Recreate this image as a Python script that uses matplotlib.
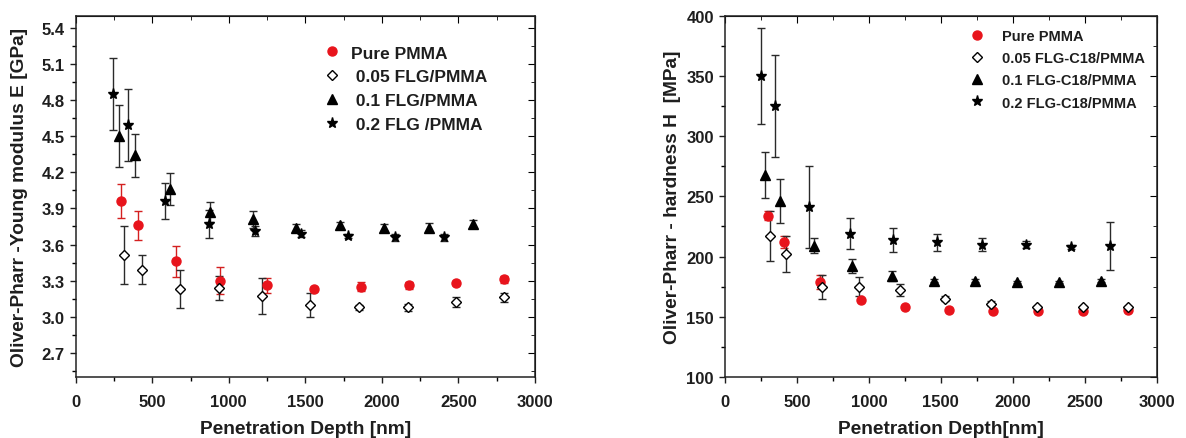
import matplotlib
matplotlib.use('Agg')
import matplotlib.pyplot as plt
import numpy as np
from matplotlib.ticker import MultipleLocator

plt.rcParams['font.family'] = ['Liberation Sans', 'DejaVu Sans']
plt.rcParams['font.weight'] = 'bold'

# Young modulus E [GPa] vs depth [nm]
e_pure_x = [296, 409, 657, 945, 1250, 1555, 1862, 2175, 2484, 2798]
e_pure_y = [3.96, 3.76, 3.46, 3.30, 3.26, 3.23, 3.25, 3.26, 3.28, 3.31]
e_pure_err = [0.14, 0.12, 0.13, 0.11, 0.06, 0.02, 0.04, 0.03, 0.02, 0.03]

e_005_x = [318, 431, 681, 938, 1219, 1531, 1853, 2173, 2486, 2800]
e_005_y = [3.51, 3.39, 3.23, 3.24, 3.17, 3.10, 3.08, 3.08, 3.12, 3.16]
e_005_err = [0.24, 0.12, 0.16, 0.10, 0.15, 0.10, 0.02, 0.03, 0.04, 0.04]

e_01_x = [281, 390, 616, 880, 1156, 1441, 1727, 2014, 2306, 2597]
e_01_y = [4.50, 4.34, 4.06, 3.87, 3.81, 3.74, 3.76, 3.74, 3.74, 3.77]
e_01_err = [0.26, 0.18, 0.13, 0.08, 0.07, 0.03, 0.03, 0.03, 0.04, 0.03]

e_02_x = [244, 344, 586, 871, 1169, 1469, 1777, 2088, 2404]
e_02_y = [4.85, 4.59, 3.96, 3.77, 3.71, 3.69, 3.67, 3.66, 3.66]
e_02_err = [0.30, 0.30, 0.15, 0.12, 0.04, 0.03, 0.02, 0.03, 0.03]

# Hardness H [MPa] vs depth [nm]
h_pure_x = [299, 412, 660, 947, 1251, 1554, 1860, 2175, 2486, 2798]
h_pure_y = [234, 212, 179, 164, 158, 156, 155, 155, 155, 156]
h_pure_err = [4, 5, 6, 1, 1, 1, 1, 1, 1, 1]

h_005_x = [313, 426, 674, 931, 1216, 1529, 1849, 2170, 2488, 2801]
h_005_y = [217, 202, 175, 175, 172, 165, 161, 158, 158, 158]
h_005_err = [21, 15, 10, 8, 5, 2, 2, 1, 1, 1]

h_01_x = [280, 385, 616, 885, 1163, 1450, 1737, 2029, 2319, 2613]
h_01_y = [268, 246, 209, 192, 184, 180, 180, 179, 179, 180]
h_01_err = [19, 18, 6, 6, 4, 1, 1, 1, 1, 1]

h_02_x = [248, 347, 586, 871, 1170, 1476, 1784, 2094, 2404, 2675]
h_02_y = [350, 325, 241, 219, 214, 212, 210, 210, 208, 209]
h_02_err = [40, 42, 34, 13, 10, 7, 5, 3, 2, 20]

TXT = '#1e1e1e'


def serie(ax, x, y, err, marker, color, face, size, label):
    ecol = '#d42020' if color == 'red' else '#2a2a2a'
    ax.errorbar(x, y, yerr=err, fmt='none', ecolor=ecol, elinewidth=1.0,
                capsize=3, capthick=1.0, zorder=2)
    ax.plot(x, y, ls='none', marker=marker, ms=size, mfc=face,
            mec='#e8141c' if color == 'red' else 'black', mew=1.0,
            label=label, zorder=3)


def preparar(ax, ylim, ymajor, yminor, ylabel, xlabel, ypad):
    ax.set_xlim(0, 3000)
    ax.set_ylim(*ylim)
    ax.xaxis.set_major_locator(MultipleLocator(500))
    ax.xaxis.set_minor_locator(MultipleLocator(250))
    ax.yaxis.set_major_locator(ymajor)
    ax.yaxis.set_minor_locator(yminor)
    ax.tick_params(which='major', direction='out', length=4.5, width=1, labelsize=12,
                   colors=TXT)
    ax.tick_params(axis='x', which='major', pad=7.5)
    ax.tick_params(which='minor', direction='out', length=3, width=1)
    for s in ax.spines.values():
        s.set_linewidth(1.1)
        s.set_color('#222222')
    ax.set_xlabel(xlabel, fontsize=13.8, fontweight='bold', color=TXT, labelpad=8)
    ax.set_ylabel(ylabel, fontsize=13.8, fontweight='bold', color=TXT, labelpad=ypad)
    # ticks hacia adentro arriba y a la derecha
    top = ax.secondary_xaxis('top')
    top.xaxis.set_major_locator(MultipleLocator(500))
    top.xaxis.set_minor_locator(MultipleLocator(250))
    top.tick_params(which='both', direction='in', labeltop=False)
    top.tick_params(which='major', length=5)
    top.tick_params(which='minor', length=3)
    der = ax.secondary_yaxis('right')
    der.yaxis.set_major_locator(ymajor)
    der.yaxis.set_minor_locator(yminor)
    der.tick_params(which='both', direction='in', labelright=False)
    der.tick_params(which='major', length=5)
    der.tick_params(which='minor', length=3)


fig = plt.figure(figsize=(11.86, 4.39), dpi=100)
ax1 = fig.add_axes([0.0638, 0.139, 0.3873, 0.823])
ax2 = fig.add_axes([0.6113, 0.139, 0.3640, 0.823])

serie(ax1, e_pure_x, e_pure_y, e_pure_err, 'o', 'red', '#e8141c', 6.5, 'Pure PMMA')
serie(ax1, e_005_x, e_005_y, e_005_err, 'D', 'black', 'white', 5.5, ' 0.05 FLG/PMMA')
serie(ax1, e_01_x, e_01_y, e_01_err, '^', 'black', 'black', 7, ' 0.1 FLG/PMMA')
serie(ax1, e_02_x, e_02_y, e_02_err, '*', 'black', 'black', 8, ' 0.2 FLG /PMMA')
preparar(ax1, (2.5, 5.5), plt.FixedLocator(np.arange(2.7, 5.41, 0.3)),
         plt.FixedLocator(np.arange(2.55, 5.5, 0.3)),
         'Oliver-Pharr -Young modulus E [GPa]', 'Penetration Depth [nm]', 9.5)
ax1.yaxis.set_major_formatter(plt.FormatStrFormatter('%.1f'))
ax1.legend(loc='upper left', bbox_to_anchor=(0.524, 0.937), frameon=False,
           handlelength=1.0, handletextpad=0.6, labelspacing=0.5, borderaxespad=0,
           prop={'weight': 'bold', 'size': 12.5}, labelcolor=TXT)

serie(ax2, h_pure_x, h_pure_y, h_pure_err, 'o', 'red', '#e8141c', 6.5, 'Pure PMMA')
serie(ax2, h_005_x, h_005_y, h_005_err, 'D', 'black', 'white', 5.5, '0.05 FLG-C18/PMMA')
serie(ax2, h_01_x, h_01_y, h_01_err, '^', 'black', 'black', 7, '0.1 FLG-C18/PMMA')
serie(ax2, h_02_x, h_02_y, h_02_err, '*', 'black', 'black', 8, '0.2 FLG-C18/PMMA')
preparar(ax2, (100, 400), MultipleLocator(50), MultipleLocator(25),
         'Oliver-Pharr - hardness H  [MPa]', 'Penetration Depth[nm]', 4)
ax2.legend(loc='upper left', bbox_to_anchor=(0.553, 0.979), frameon=False,
           handlelength=1.0, handletextpad=1.2, labelspacing=0.56, borderaxespad=0,
           prop={'weight': 'bold', 'size': 10.5}, labelcolor=TXT)

fig.savefig('out.png', dpi=100)
